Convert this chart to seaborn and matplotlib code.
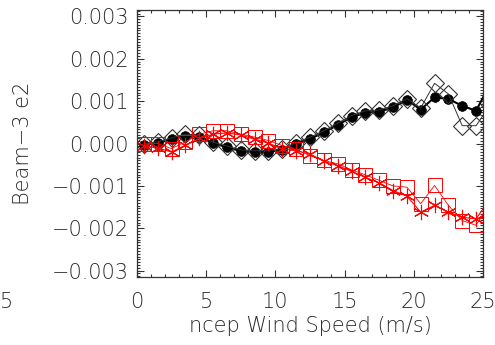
import numpy as np
import pandas as pd
import matplotlib
matplotlib.use("Agg")
import matplotlib.pyplot as plt
import seaborn as sns
from matplotlib.ticker import MultipleLocator, FixedLocator

# Wind-speed bin centres (m/s)
wind = [0.5, 1.5, 2.5, 3.5, 4.5, 5.5, 6.5, 7.5, 8.5, 9.5, 10.5, 11.5, 12.5,
        13.5, 14.5, 15.5, 16.5, 17.5, 18.5, 19.5, 20.5, 21.5, 22.5, 23.5,
        24.5, 25.5]

# Beam-3 e2 residuals per bin
filled_black = [-0.00003, 0.00001, 0.00010, 0.00018, 0.00016, 0.00001, -0.00009,
                -0.00018, -0.00020, -0.00020, -0.00015, -0.00001, 0.00011,
                0.00026, 0.00044, 0.00062, 0.00073, 0.00075, 0.00085, 0.00103,
                0.00080, 0.00109, 0.00105, 0.00089, 0.00077, 0.00140]
open_diamond = [0.00000, 0.00004, 0.00013, 0.00022, 0.00019, 0.00003, -0.00006,
                -0.00015, -0.00017, -0.00017, -0.00012, 0.00002, 0.00015,
                0.00030, 0.00048, 0.00066, 0.00077, 0.00079, 0.00089, 0.00106,
                0.00084, 0.00142, 0.00117, 0.00042, 0.00042, 0.00090]
red_star = [-0.00005, -0.00011, -0.00020, -0.00004, 0.00012, 0.00022, 0.00025,
            0.00020, 0.00010, 0.00001, -0.00013, -0.00017, -0.00025, -0.00042,
            -0.00052, -0.00066, -0.00080, -0.00093, -0.00111, -0.00124,
            -0.00162, -0.00146, -0.00162, -0.00174, -0.00178, -0.00130]
red_square = [-0.00001, 0.00000, -0.00012, 0.00004, 0.00022, 0.00030, 0.00030,
              0.00022, 0.00015, 0.00007, -0.00005, -0.00014, -0.00029, -0.00040,
              -0.00048, -0.00062, -0.00074, -0.00087, -0.00100, -0.00103,
              -0.00142, -0.00099, -0.00146, -0.00182, -0.00193, -0.00140]

x_ticks = [0, 5, 10, 15, 20, 25]
y_ticks = [-0.003, -0.002, -0.001, 0.0, 0.001, 0.002, 0.003]
y_ticklabels = ["\u22120.003", "\u22120.002", "\u22120.001", "0.000",
                "0.001", "0.002", "0.003"]

sns.set_theme(style="white")
plt.rcParams["font.family"] = ["DejaVu Sans"]
plt.rcParams["font.weight"] = "light"
plt.rcParams["axes.labelweight"] = "light"

TXT = "#2a2a2a"

fig = plt.figure(figsize=(4.95, 3.45), dpi=100)
ax = fig.add_axes([137 / 495, 1 - 277 / 345, 346 / 495, 267 / 345])

df = pd.DataFrame({"wind": wind, "a": filled_black, "b": open_diamond,
                   "c": red_star, "d": red_square})

sns.lineplot(data=df, x="wind", y="a", ax=ax, color="black", linewidth=1.5,
             marker="o", markersize=7, markerfacecolor="black",
             markeredgecolor="black", markeredgewidth=0.5, sort=False)
sns.lineplot(data=df, x="wind", y="b", ax=ax, color="#333333", linewidth=0.7,
             marker="D", markersize=9, markerfacecolor="none",
             markeredgecolor="#333333", markeredgewidth=0.8, sort=False)
sns.lineplot(data=df, x="wind", y="c", ax=ax, color="red", linewidth=0.8,
             marker=(6, 2, 0), markersize=11, markerfacecolor="red",
             markeredgecolor="red", markeredgewidth=0.8, sort=False)
sns.lineplot(data=df, x="wind", y="d", ax=ax, color="red", linewidth=0.6,
             marker="s", markersize=9.5, markerfacecolor="none",
             markeredgecolor="red", markeredgewidth=0.7, sort=False)

ax.set_xlim(0, 25)
ax.set_ylim(-0.00315, 0.00315)
ax.xaxis.set_major_locator(FixedLocator(x_ticks))
ax.xaxis.set_minor_locator(MultipleLocator(1))
ax.yaxis.set_major_locator(FixedLocator(y_ticks))
ax.yaxis.set_minor_locator(MultipleLocator(0.001 / 15))
ax.set_yticklabels(y_ticklabels)

ax.tick_params(which="both", direction="in", top=True, right=True,
               bottom=True, left=True, color="#333333", width=0.8,
               labelcolor=TXT, labelsize=15)
ax.tick_params(axis="y", which="both", pad=6)
ax.tick_params(axis="x", which="both", pad=11)
ax.tick_params(which="major", length=5)
ax.tick_params(which="minor", length=2.5)

for sp in ax.spines.values():
    sp.set_color("#333333")
    sp.set_linewidth(0.9)

ax.set_xlabel("ncep Wind Speed (m/s)", fontsize=15, color=TXT, labelpad=3,
              fontweight="light")
ax.set_ylabel("Beam\u22123 e2", fontsize=15, color=TXT, labelpad=13,
              fontweight="light")

# x tick label of the neighbouring panel at the figure edge
fig.text(0.0, 1 - 302 / 345, "5", fontsize=15, color=TXT,
         ha="left", va="center", fontweight="light")

fig.savefig("out.png", dpi=100, facecolor="white")
